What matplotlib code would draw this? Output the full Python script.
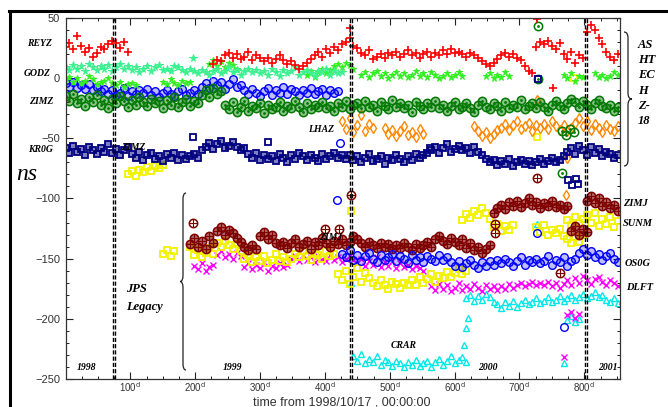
import matplotlib
matplotlib.use("Agg")
import matplotlib.pyplot as plt
from matplotlib.colors import to_rgba
from matplotlib.path import Path
from matplotlib.patches import PathPatch
from matplotlib.lines import Line2D

STEP = 6  # days between the samples typed below

# each series: list of (first day, values in ns every STEP days)
reyz = [
    (0, [26, 29, 24, 35, 27, 22, 25, 18, 21, 26, 24, 28, 31, 29, 25, 30, 22]),
    (228, [12, 15, 14, 19, 21, 17,
           20, 16, 18, 22, 15, 19, 17,
           14, 17, 13, 16, 19, 15, 12, 14,
           11, 8, 10, 13, 16,
           19, 22, 18, 24, 21, 26,
           23, 28, 30, 33, 27,
           25, 21, 19, 23, 16, 18, 20,
           17, 21, 19, 22, 18, 20, 23, 19, 21, 17, 20, 22, 18, 21, 19, 23, 20, 24, 21,
           22, 20, 18, 21, 19, 17, 14, 12, 10, 13,
           16, 19, 21, 18, 20, 17, 15,
           10, 6, 4,
           26, 30, 28, 31, 27, 24, 29,
           20, 16, 22, 13, 19, 17,
           38, 44, 40, 33, 28, 22, 18, 15, 20]),
]
reyz_extra = ([752, 727, 439], [-8, 49, 42])

godz = [
    (0, [9, 7, 11, 8, 10, 6, 12, 9, 7, 10, 8, 11, 6, 9, 12, 8, 10,
         7, 9, 5, 8, 10, 6, 9, 11, 7, 8, 6, 10, 9, 7, 5, 8, 6,
         4, 7, 5, 3, 6, 8, 4, 6, 9, 5, 7, 3, 6, 8, 5, 7, 4,
         6, 3, 8, 5, 2, 7, 4, 6, 9, 3, 5, 7, 4, 2, 6, 5, 8, 3, 6, 4, 5]),
]
godz_extra = ([197], [17])

lime = [
    (0, [-1, 1, -3, 0, -4, -2, 2, -1, -5, -3, -2, 0, -4, -6, -3, -7, -5, -4, -6]),
    (150, [-3, -5, -1, -4, -6, -2, -4, -3]),
    (222, [12, 15, 10, 14, 9, 13, 11, 8]),
    (372, [3, 6, 1, 5, 8, 4, 7, 10, 12, 9, 13, 11, 8]),
    (456, [3, 5, 1, 4, 6, 2, 4, 0, 3, 5, 2, 4, 1, 3, 6, 2, 4, 1, 5, 3, 0, 2, 4, 1, 3, 5, 2]),
    (648, [2, 4, 0, 3, 1, 5, 2]),
    (768, [3, 0, 4, -2, 2, 1]),
    (816, [4, 1, 3, 0, 2, 5, 3]),
]

blue = [
    (0, [-4, -7, -3, -8, -6, -9, -5, -10, -7]),
    (54, [-11, -9, -13, -10, -14, -12, -8, -15, -11, -13, -10, -12, -9, -14, -11, -16,
          -12, -10, -13, -15, -11, -9, -14, -12, -10, -13]),
    (210, [-7, -4, -8, -2, -6, -3, -9, -5, -1, -7, -6]),
    (276, [-10, -13, -9, -12, -15, -11, -8, -14, -10, -12, -7, -13, -9, -11, -14, -10,
           -12, -8, -13, -11, -9, -14, -10, -12, -11]),
    (426, [-146, -149, -143, -151, -147, -152, -148, -145, -150, -153, -147, -151, -149, -146,
           -152, -148, -150, -154, -147, -151, -149, -153, -148, -150, -152, -147, -151, -149]),
    (594, [-153, -156, -152, -157, -154, -151, -155, -158, -153, -156, -152, -155]),
    (666, [-151, -154, -150, -153, -156, -152, -149, -155, -151, -153, -150, -154, -152, -148,
           -155, -151, -153, -149, -156, -152]),
    (786, [-150, -145, -142, -147, -144, -149, -146, -151, -148, -145, -150, -153]),
]
blue_extra = ([419, 727, 768, 424], [-101, -129, -207, -54])

zimz = [
    (0, [-15, -19, -13, -21, -17, -23, -16, -20, -14, -22, -18, -25, -17, -21, -15, -19, -24, -18,
         -22, -16, -20, -23, -17, -21, -19, -25, -18, -22, -16, -24, -20, -17, -23, -19, -21]),
    (210, [-14, -10, -16, -8, -13, -11]),
    (246, [-22, -26, -20, -28, -24, -19, -27, -23, -25, -21, -29, -22, -26, -24, -20, -27, -23,
           -25, -19, -24, -28, -21, -26, -22, -24, -20, -25, -23, -27, -21, -24, -19, -26, -22]),
    (450, [-21, -25, -19, -24, -22, -27, -20, -23, -26, -18, -24, -21, -25, -22, -28, -20, -23,
           -26, -21, -24, -19, -25, -22, -27, -23, -20, -26, -24, -21, -25, -28, -22, -19, -24,
           -26, -21, -23, -27, -20, -25, -22, -24, -18, -26, -23, -21, -25, -20, -24, -27, -22,
           -19, -23, -26, -21, -17, -20, -24, -19, -22, -26, -21, -18, -23, -25, -22, -27, -24]),
]
zimz_extra = ([729, 729, 766, 766, 772, 778, 784], [43, -1, -79, -44, -47, -42, -45])

lhaz = [
    (426, [-36, -42, -33, -45, -39, -31, -44, -38, -41]),
    (492, [-41, -46, -43, -48, -44, -40, -47, -45, -49, -42, -46]),
    (630, [-40, -44, -48, -45, -50, -46, -43]),
    (672, [-41, -38, -43, -39, -36, -42, -40, -37, -44, -39, -41, -38, -42, -36, -40, -43, -39]),
    (774, [-44, -41, -37, -33, -40, -36, -43, -38, -41, -45, -39, -42, -44, -40]),
]
lhaz_extra = ([727, 772, 774], [-18, -97, -66])

kr0g = [
    (0, [-58, -62, -56, -61, -59, -64, -57, -60, -63, -58, -61, -55, -62, -59, -64, -60, -57]),
    (102, [-63, -66, -61, -68, -64, -62, -67, -65, -69, -63, -66, -62, -68, -64, -67, -65, -63, -66]),
    (210, [-60, -57, -54, -59, -55, -52, -58, -56, -53, -57, -60, -58]),
    (282, [-63, -66, -62, -68, -64, -67, -65, -69, -63, -66, -70, -64, -67, -62, -65, -68, -64,
           -66, -69, -63, -67, -65, -62, -66, -64, -67]),
    (438, [-64, -68, -65, -70, -66, -63, -69, -67, -65, -71, -66, -68, -64, -67, -70, -65, -68,
           -63, -66, -64, -62]),
    (564, [-60, -57, -62, -58, -55, -61, -59, -56, -60, -58, -62, -57, -61, -64]),
    (648, [-67, -70, -68, -72, -69, -71, -67, -73, -70, -68, -71, -69, -72, -70, -67, -71, -69,
           -66, -70, -68, -65]),
    (774, [-61, -58, -63, -56, -60, -64, -57, -62, -59, -65, -61, -63, -66, -64]),
]
kr0g_extra = ([197, 729, 313, 562, 775, 781, 787, 790], [-49, -1, -53, -58, -85, -89, -84, -88])

sunm = [
    (96, [-80, -77, -81, -76, -78, -74, -77, -73, -75, -72]),
    (150, [-146, -143, -148, -144]),
    (192, [-140, -147, -143, -149, -145, -141, -146,
           -137, -140, -135, -139, -142, -138, -144,
           -150, -147, -153, -149, -152, -148, -154, -151, -146, -152, -149, -153, -150,
           -146, -149, -144, -148, -151, -145, -147, -150, -144, -148, -146]),
    (420, [-163, -168, -160, -171, -165, -158, -169, -162, -166,
           -170, -173, -168, -172, -175, -169, -171, -174, -170, -172,
           -168, -172, -165, -170, -167, -163, -169, -164, -166, -161, -165, -162, -159, -163, -160]),
    (612, [-118, -113, -116, -110, -114, -108, -112, -117, -124, -121, -127, -123, -126, -122]),
    (726, [-124, -128, -122, -130, -126, -129, -125, -131, -134, -137, -132, -136, -130]),
    (774, [-118, -122, -115, -120, -117, -114, -120, -112, -123, -117, -121, -115, -124, -119]),
]
sunm_extra = ([440, 784, 727], [-110, 0, -49])

zimj = [
    (192, [-138, -133, -140, -135, -142, -131, -137,
           -127, -124, -130, -126, -129, -133, -136,
           -140, -143, -139, -142,
           -131, -128, -134, -130, -137,
           -139, -136, -141, -137, -134, -140, -138, -135, -142, -136, -139, -133, -137, -140,
           -135, -138, -134, -139, -136, -131,
           -134, -137, -140, -136, -139, -141, -137, -140, -138, -142, -139, -141, -137, -140,
           -143, -138, -141, -139, -136, -140, -134, -131, -135, -138, -133,
           -136, -139, -134, -141, -137, -143, -140, -145, -142, -139]),
    (660, [-112, -108, -105, -109, -103, -106, -102, -107, -104, -100, -105, -103, -108, -104,
           -106, -102, -107, -105, -109, -106]),
    (780, [-127, -123, -130, -125, -128]),
    (804, [-102, -98, -104, -100, -106, -103, -108, -105, -110]),
]
zimj_extra = ([197, 440, 727, 663, 663, 762, 400, 422], [-120, -97, -83, -121, -129, -162, -125, -125])

dlft = [
    (198, [-156, -159, -154, -160, -157, -155,
           -147, -144, -149, -146, -150, -145, -148,
           -157, -154, -159, -155, -158, -153, -160, -156, -158, -154, -157, -155,
           -150, -148, -152, -147, -151, -149, -153, -148, -150, -152, -147, -151, -149, -153,
           -150, -148,
           -151, -154, -150, -156, -152, -155, -149, -157, -153, -156, -152, -158, -154, -157,
           -155, -159, -156, -158, -160]),
    (564, [-173, -176, -171, -175, -172, -177, -174, -170, -176, -173, -175, -171, -174, -177,
           -172, -175, -173,
           -176, -173, -175, -171, -174, -172, -170, -173, -171, -169, -172, -170,
           -172, -169, -173, -170, -174, -171, -168, -172, -166, -170, -164, -168, -171, -167,
           -165, -169, -172, -168, -170, -173]),
]
dlft_extra = ([774, 780, 786, 792, 768], [-197, -194, -199, -196, -232])

crar = [
    (444, [-231, -235, -229, -237, -233, -236, -231, -238, -234, -236, -239, -235, -237, -240,
           -236, -238, -234, -239, -237, -235, -240, -236, -233, -238, -235, -231, -237, -234,
           -232, -236]),
    (618, [-183, -180, -185, -181, -184, -179, -182, -186,
           -188, -191, -186, -189, -185, -190, -187, -184, -188, -186, -183, -187, -185, -182,
           -186, -184, -181, -185, -183, -180, -184, -182, -179, -183, -181, -178, -182, -180,
           -184, -186, -183, -187, -185]),
]
crar_extra = ([614, 617, 620, 727, 774, 780, 786, 792, 768, 440],
              [-222, -208, -199, -121, -201, -198, -203, -200, -237, -170])

day_ticks = [100, 200, 300, 400, 500, 600, 700, 800]
breaks = [73, 76, 438, 441, 801, 804]

W, H = 668, 407
fig = plt.figure(figsize=(W / 100, H / 100), dpi=100)
ax = fig.add_axes([65.5 / W, 1 - 379 / H, (620 - 65.5) / W, (379 - 18) / H])


def fx(px):
    return px / W


def fy(py):
    return 1 - py / H


def draw(segs, extra=None, fill=None, **kw):
    x, y = [], []
    for d0, vals in segs:
        x += [d0 + STEP * i for i in range(len(vals))]
        y += vals
    if fill:
        # the dense daily bands look nearly solid in the original
        ax.plot(x, y, ls='none', mfc=to_rgba(kw['mec'], fill), **kw)
    else:
        ax.plot(x, y, ls='none', **kw)
    if extra:
        kw.setdefault('mfc', 'none')
        ax.plot(extra[0], extra[1], ls='none', **kw)
    return x + (extra[0] if extra else []), y + (extra[1] if extra else [])


for d in breaks:
    ax.axvline(d, color='black', lw=1, ls=(0, (3, 1.5)), zorder=6)

draw(crar, crar_extra, marker='^', ms=4.5, mfc='none', mec='#00e8e8', mew=1.0)
draw(dlft, dlft_extra, marker='x', ms=4, mec='#ff00ff', mew=1.0)
draw(sunm, sunm_extra, marker='s', ms=4.8, mfc='none', mec='#f2f200', mew=1.3)
zx, zy = draw(zimj, zimj_extra, fill=0.6, marker='o', ms=6, mec='#800000', mew=1.1)
ax.plot(zx, zy, ls='none', marker='+', ms=6, mec='#800000', mew=0.8)
draw(blue, blue_extra, fill=0.25, marker='o', ms=5.5, mec='#0000ff', mew=1.0)
draw(lhaz, lhaz_extra, marker='d', ms=5.5, mfc='none', mec='#ff8800', mew=1.0)
gx, gy = draw(zimz, zimz_extra, fill=0.45, marker='o', ms=6, mec='#007a00', mew=1.1)
ax.plot(gx, gy, ls='none', marker='.', ms=2, mec='#007a00', mfc='#007a00')
draw(lime, None, marker='*', ms=5, mfc='#33ee22', mec='#33ee22', mew=0.7)
draw(godz, godz_extra, marker='*', ms=5.5, mfc='#3cf090', mec='#3cf090', mew=0.7)
draw(reyz, reyz_extra, marker='+', ms=5.5, mec='#ff0000', mew=1.2)
draw(kr0g, kr0g_extra, fill=0.5, marker='s', ms=4.8, mec='#000080', mew=1.3)

ax.set_xlim(0, 855)
ax.set_ylim(-250, 50)
ax.set_xticks(day_ticks)
ax.set_xticklabels([f'{d}$^\\mathrm{{d}}$' for d in day_ticks])
ax.set_xticks(range(25, 855, 25), minor=True)
ax.set_yticks(range(-250, 51, 50))
ax.set_yticks(range(-240, 50, 10), minor=True)
ax.tick_params(which='both', direction='in', top=True, right=True, colors='#222222')
ax.tick_params(which='major', length=5, width=0.8)
ax.tick_params(which='minor', length=2.5, width=0.7)
ax.tick_params(axis='x', labelsize=7, pad=1)
ax.tick_params(axis='y', labelsize=8, pad=4)
for lab in ax.get_xticklabels() + ax.get_yticklabels():
    lab.set_fontfamily('Liberation Sans')
    lab.set_color('#333333')
for s in ax.spines.values():
    s.set_linewidth(0.9)
    s.set_color('#333333')

bi = dict(family='Liberation Serif', fontweight='bold', fontstyle='italic', color='black')

fig.text(fx(342), fy(396.5), 'time from 1998/10/17 , 00:00:00', ha='center', va='top',
         fontsize=9, family='Liberation Sans', color='#333333')
fig.text(fx(27), fy(175), 'ns', ha='center', va='center', fontsize=17,
         family='Liberation Serif', fontstyle='italic')

for name, x, y in [('REYZ', 40, 43), ('GODZ', 37, 73), ('ZIMZ', 41, 101), ('KR0G', 41, 150)]:
    fig.text(fx(x), fy(y), name, ha='center', va='center', fontsize=7, **bi)
for name, x, y in [('ZIMJ', 623, 203), ('SUNM', 623, 224), ('OS0G', 625, 263), ('DLFT', 626, 288)]:
    fig.text(fx(x), fy(y), name, ha='left', va='center', fontsize=7.5, **bi)
for i, name in enumerate(['AS', 'HT', 'EC', 'H', 'Z-', '18']):
    fig.text(fx(638), fy(45 + 15.2 * i), name, ha='left', va='center', fontsize=9, **bi)

inner = [('LHAZ', 321, 129, 7, 3), ('ZIMZ', 133, 147, 7, 1), ('ZIMJ', 331, 237, 7, 1),
         ('CRAR', 404, 345, 7, 3), ('1998', 87, 367, 7, 3), ('1999', 233, 367, 7, 3),
         ('2000', 488, 367, 7, 3), ('2001', 608, 367, 7, 3)]
for name, x, y, fs, z in inner:
    fig.text(fx(x), fy(y), name, ha='center', va='center', fontsize=fs, zorder=z, **bi)
fig.text(fx(126), fy(289), 'JPS', ha='left', va='center', fontsize=9, **bi)
fig.text(fx(126), fy(307), 'Legacy', ha='left', va='center', fontsize=9, **bi)


def brace(x, y0, y1, w, d, left=True):
    s = -1 if left else 1
    ym = (y0 + y1) / 2
    pts = [(x - s * w, y0), (x, y0), (x, y0 + d),
           (x, ym - d), (x, ym), (x + s * w, ym),
           (x, ym), (x, ym + d),
           (x, y1 - d), (x, y1), (x - s * w, y1)]
    codes = [Path.MOVETO, Path.CURVE3, Path.CURVE3,
             Path.LINETO, Path.CURVE3, Path.CURVE3,
             Path.CURVE3, Path.CURVE3,
             Path.LINETO, Path.CURVE3, Path.CURVE3]
    path = Path([(fx(a), fy(b)) for a, b in pts], codes)
    fig.add_artist(PathPatch(path, fill=False, lw=0.9, color='#222222',
                             transform=fig.transFigure))


brace(183, 193, 370, 3, 6, left=True)
brace(628, 32, 166, 4, 6, left=False)

fig.add_artist(Line2D([fx(9), 1], [fy(11), fy(11)], color='black', lw=2.2))
fig.add_artist(Line2D([fx(10), fx(10)], [0, fy(11)], color='black', lw=2.2))

fig.savefig('out.png', dpi=100)
